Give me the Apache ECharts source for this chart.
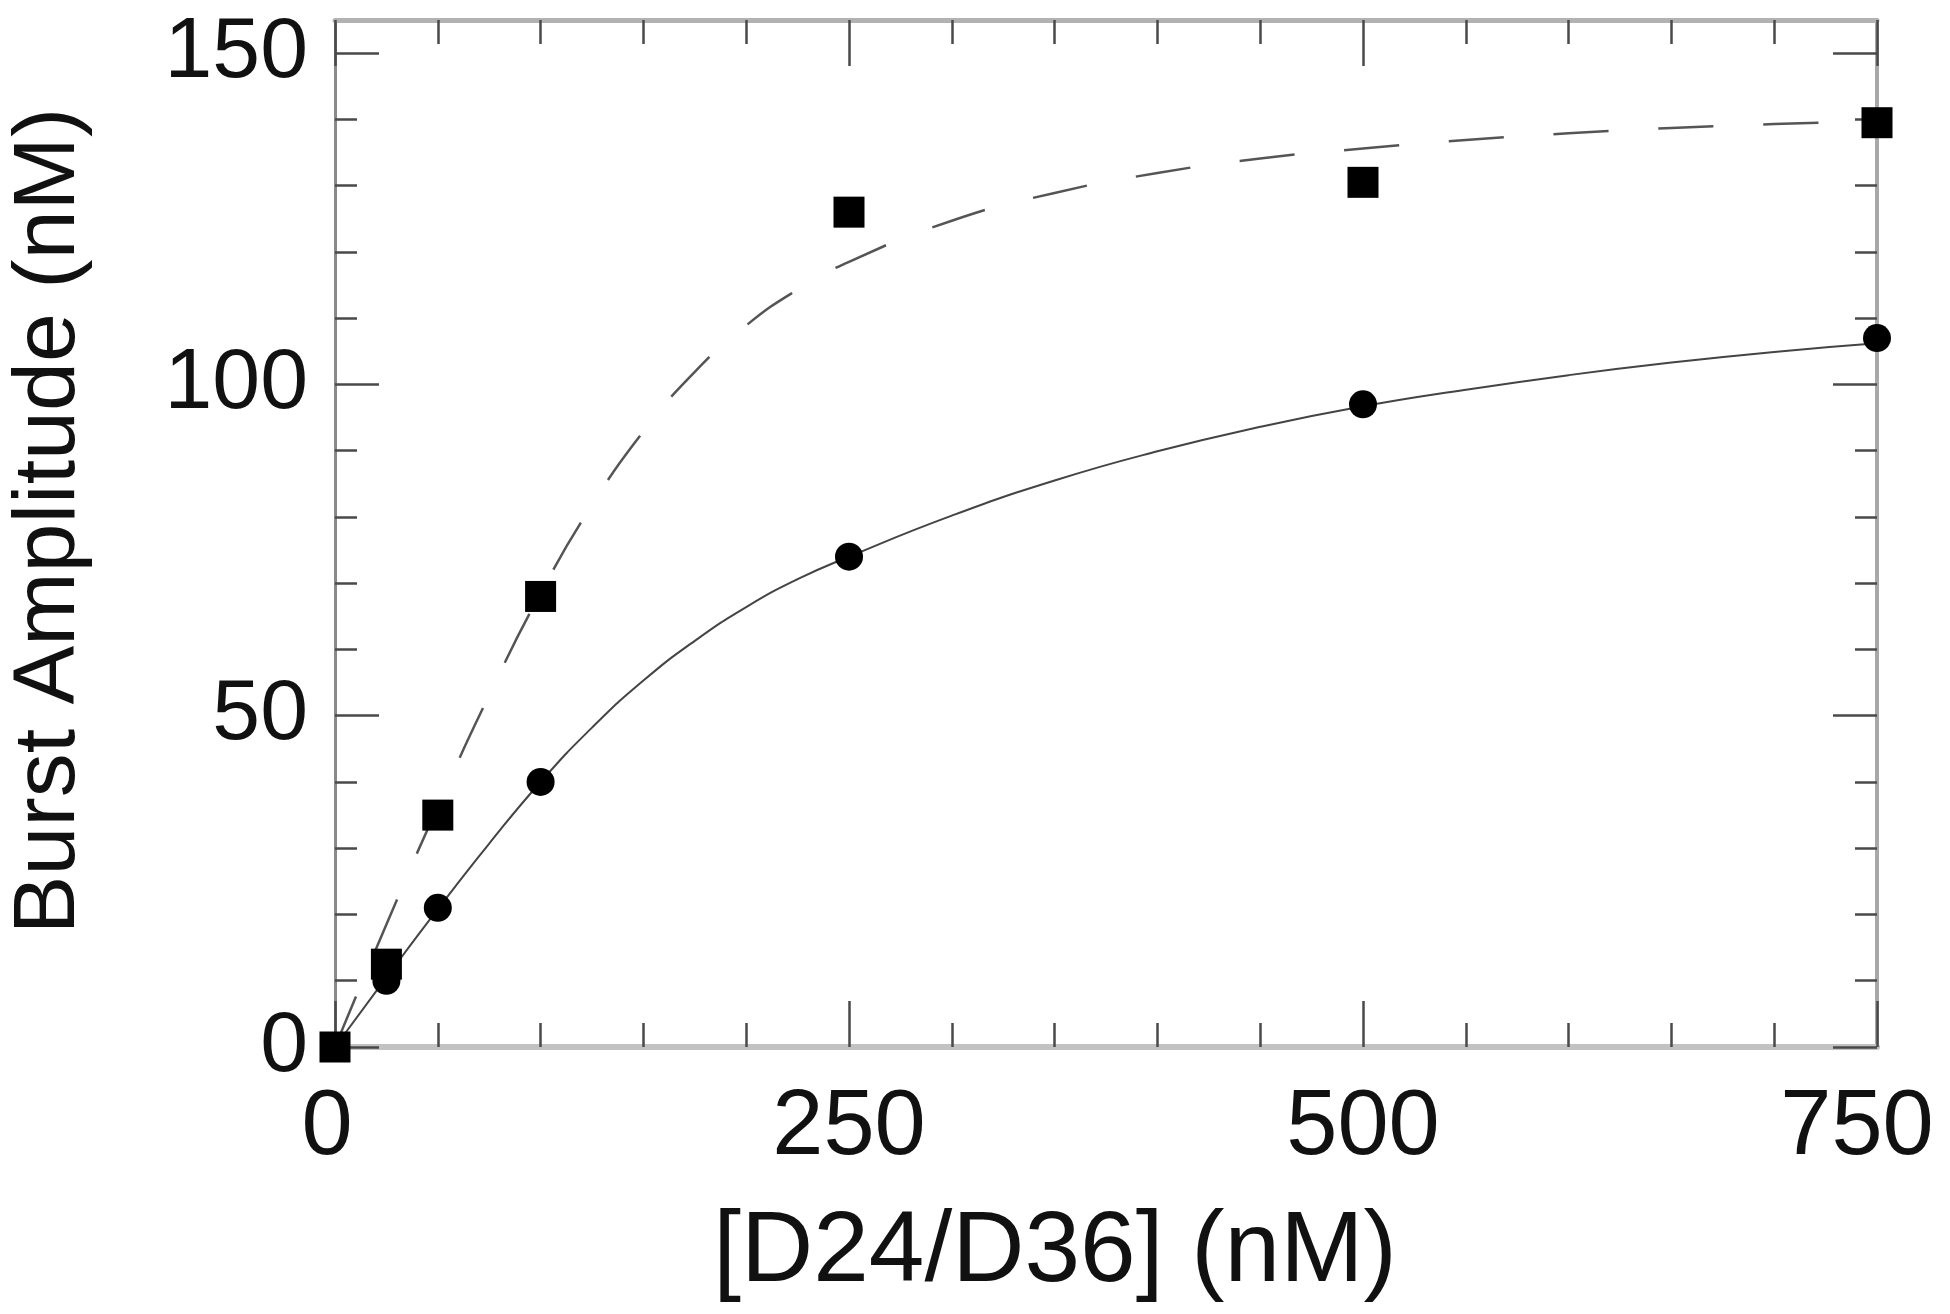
<!DOCTYPE html>
<html>
<head>
<meta charset="utf-8">
<title>Burst Amplitude</title>
<script src="https://cdn.jsdelivr.net/npm/echarts@6/dist/echarts.min.js"></script>
<style>
  html, body { margin: 0; padding: 0; background: #fff; }
  #main { width: 1950px; height: 1314px; }
</style>
</head>
<body>
<div id="main"></div>
<script>
var concX = [0, 25, 50, 100, 250, 500, 750];
var circleY = [0, 10, 21, 40, 74, 97, 107];
var squareY = [0, 12.5, 35, 68, 126, 130.5, 139.5];

// fitted curves
var fitX = [0, 25, 50, 75, 100, 125, 150, 175, 200, 225, 250, 300, 350, 400, 450, 500, 550, 600, 650, 700, 750];
var solidFitY = [0, 10.5, 20.8, 30.7, 40, 48.2, 55.3, 61.3, 66.4, 70.6, 74, 80.2, 85.5, 89.9, 93.6, 96.7, 99.2, 101.4, 103.3, 104.9, 106.2];
var dashFitY = [0, 18.5, 36.3, 53.1, 68.5, 81.8, 92.9, 101.9, 108.9, 114.3, 118.5, 124.7, 128.9, 131.9, 134.1, 135.6, 136.9, 137.9, 138.7, 139.3, 139.7];

// ticks
var xTicks = [0, 250, 500, 750];
var yTicks = [0, 50, 100, 150];
var yMinorTicks = [0, 10, 20, 30, 40, 50, 60, 70, 80, 90, 100, 110, 120, 130, 140, 150];

function pairs(xs, ys) {
    return xs.map(function (x, i) { return [x, ys[i]]; });
}

var font = 'Liberation Sans, Arial, Helvetica, sans-serif';
var tickColor = '#4a4a4a';

function xAxisDef(pos, lineColor, lineWidth, showLabel) {
    return {
        type: 'value',
        position: pos,
        min: 0,
        max: 750,
        interval: 250,
        axisLine: { show: true, onZero: false, lineStyle: { color: lineColor, width: lineWidth } },
        axisTick: { show: true, inside: true, length: 46, lineStyle: { color: tickColor, width: 2.5 } },
        minorTick: { show: true, splitNumber: 5, length: 24, lineStyle: { color: tickColor, width: 2.5 } },
        axisLabel: {
            show: showLabel,
            customValues: xTicks,
            margin: 36,
            fontSize: 92,
            fontFamily: font,
            color: '#111',
            // end labels sit a bit left of their ticks in the original
            formatter: function (v) {
                if (v === 0) return '{a|' + v + '}';
                if (v === 750) return '{b|' + v + '}';
                return String(v);
            },
            rich: {
                a: { fontSize: 92, fontFamily: font, color: '#111', padding: [0, 16, 0, 0] },
                b: { fontSize: 92, fontFamily: font, color: '#111', padding: [0, 40, 0, 0] }
            }
        },
        splitLine: { show: false },
        minorSplitLine: { show: false }
    };
}

function yAxisDef(pos, lineColor, lineWidth, ticks, len, showLabel) {
    return {
        type: 'value',
        position: pos,
        min: 0,
        max: 155,
        axisLine: { show: lineColor !== null, onZero: false, lineStyle: { color: lineColor || '#000', width: lineWidth } },
        axisTick: { show: true, inside: true, length: len, customValues: ticks, lineStyle: { color: tickColor, width: 2.5 } },
        axisLabel: {
            show: showLabel,
            customValues: yTicks,
            margin: 27,
            fontSize: 86,
            fontFamily: font,
            color: '#111'
        },
        splitLine: { show: false }
    };
}

var myChart = echarts.init(document.getElementById('main'));
myChart.setOption({
    animation: false,
    backgroundColor: '#fff',
    grid: { left: 335, right: 73, top: 20, bottom: 267 },
    xAxis: [
        xAxisDef('bottom', '#c2c2c2', 6, true),
        xAxisDef('top', '#b2b2b2', 5, false)
    ],
    yAxis: [
        yAxisDef('left', '#8a8a8a', 3, yTicks, 44, true),
        yAxisDef('left', null, 0, yMinorTicks, 22, false),
        yAxisDef('right', '#a8a8a8', 4, yTicks, 44, false),
        yAxisDef('right', null, 0, yMinorTicks, 22, false)
    ],
    graphic: [
        {
            type: 'text',
            x: 1055,
            y: 1253,
            style: {
                text: '[D24/D36] (nM)',
                font: '100px ' + font,
                fill: '#111',
                textAlign: 'center',
                textVerticalAlign: 'middle'
            }
        },
        {
            type: 'text',
            x: 50,
            y: 521,
            rotation: Math.PI / 2,
            style: {
                text: 'Burst Amplitude (nM)',
                font: '88px ' + font,
                fill: '#111',
                textAlign: 'center',
                textVerticalAlign: 'middle'
            }
        }
    ],
    series: [
        {
            name: 'fit circles',
            type: 'line',
            smooth: true,
            symbol: 'none',
            data: pairs(fitX, solidFitY),
            lineStyle: { color: '#444', width: 2 },
            z: 2
        },
        {
            name: 'fit squares',
            type: 'line',
            smooth: true,
            symbol: 'none',
            data: pairs(fitX, dashFitY),
            lineStyle: { color: '#555', width: 2.5, type: [55, 50] },
            z: 2
        },
        {
            name: 'circles',
            type: 'scatter',
            symbol: 'circle',
            symbolSize: 28,
            clip: false,
            data: pairs(concX, circleY),
            itemStyle: { color: '#000', opacity: 1 },
            z: 3
        },
        {
            name: 'squares',
            type: 'scatter',
            symbol: 'rect',
            symbolSize: 31,
            clip: false,
            data: pairs(concX, squareY),
            itemStyle: { color: '#000', opacity: 1 },
            z: 3
        }
    ]
});
</script>
</body>
</html>
